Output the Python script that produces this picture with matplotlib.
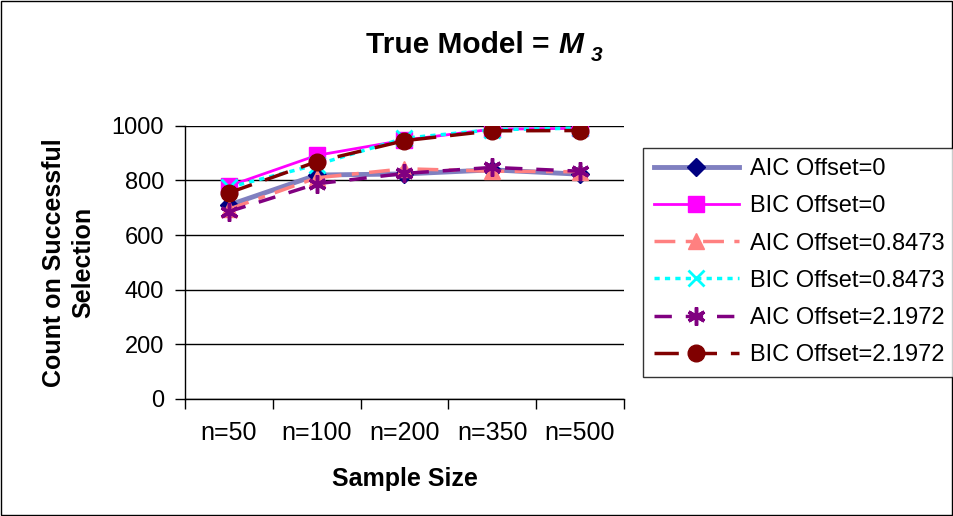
import numpy as np
import matplotlib.pyplot as plt
from matplotlib.patches import Rectangle

plt.rcParams['font.family'] = ['Liberation Sans', 'DejaVu Sans']

# Daten
sizes = ['n=50', 'n=100', 'n=200', 'n=350', 'n=500']
aic_0 = [710, 820, 824, 839, 823]
bic_0 = [780, 892, 948, 988, 991]
aic_08473 = [695, 810, 843, 834, 832]
bic_08473 = [775, 858, 955, 986, 992]
aic_21972 = [686, 788, 826, 848, 834]
bic_21972 = [755, 869, 946, 982, 983]

fig = plt.figure(figsize=(9.54, 5.16), dpi=100)
ax = fig.add_axes([0.194, 0.227, 0.460, 0.529])
x = np.arange(len(sizes))

ax.plot(x, aic_0, color='#8080c0', lw=3.5, marker='D', ms=9,
        mfc='#000080', mec='#000080', label='AIC Offset=0', zorder=3)
ax.plot(x, bic_0, color='#ff00ff', lw=2, marker='s', ms=11,
        mfc='#ff00ff', mec='#ff00ff', label='BIC Offset=0', zorder=3)
ax.plot(x, aic_08473, color='#ff8080', lw=2.5, ls=(0, (6, 3, 2, 3)), marker='^', ms=11,
        mfc='#ff8080', mec='#ff8080', label='AIC Offset=0.8473', zorder=3)
ax.plot(x, bic_08473, color='#00ffff', lw=2.5, ls=(0, (1.5, 1.5)), marker='x', ms=11, mew=2,
        mfc='#00ffff', mec='#00ffff', label='BIC Offset=0.8473', zorder=3)
ax.plot(x, aic_21972, color='#800080', lw=2.5, ls=(0, (5, 4)), marker=(6, 2, 0), ms=13, mew=2.5,
        mfc='#800080', mec='#800080', label='AIC Offset=2.1972', zorder=3)
ax.plot(x, bic_21972, color='#800000', lw=2.5, ls=(0, (7, 4)), marker='o', ms=12,
        mfc='#800000', mec='#800000', label='BIC Offset=2.1972', zorder=3)

# Achsen
ax.set_xlim(-0.5, len(sizes) - 0.5)
ax.set_ylim(0, 1000)
ax.set_yticks(np.arange(0, 1001, 200))
ax.set_xticks(x)
ax.set_xticklabels(sizes)
ax.set_xticks(np.arange(-0.5, len(sizes)), minor=True)
ax.tick_params(axis='x', which='major', length=0, labelsize=18, pad=16)
ax.tick_params(axis='x', which='minor', length=7, width=1, direction='out')
ax.tick_params(axis='y', length=7, width=1, labelsize=17, pad=8)
ax.grid(axis='y', color='black', lw=1)
ax.set_axisbelow(True)
for s in ['top', 'right']:
    ax.spines[s].set_visible(False)
for s in ['left', 'bottom']:
    ax.spines[s].set_color('black')
    ax.spines[s].set_linewidth(1)

ax.set_xlabel('Sample Size', fontsize=18, weight='bold', labelpad=16)
ax.set_ylabel('Count on Successful\nSelection', fontsize=18, weight='bold', labelpad=12,
              linespacing=1.28)

# Titel
fig.text(0.585, 0.912, 'True Model = ', fontsize=21.5, weight='bold', ha='right', va='center')
fig.text(0.585, 0.912, 'M', fontsize=21.5, weight='bold', style='italic', ha='left', va='center')
fig.text(0.619, 0.893, '3', fontsize=15, weight='bold', style='italic', ha='left', va='center')

# Legende
leg = fig.legend(loc='center left', bbox_to_anchor=(0.662, 0.492), bbox_transform=fig.transFigure,
                 fontsize=17, frameon=True, fancybox=False, edgecolor='black',
                 handlelength=3.6, labelspacing=0.64, borderpad=0.45, handletextpad=0.45)
leg.get_frame().set_linewidth(1)

# Rahmen
fig.patches.append(Rectangle((0.001, 0.002), 0.997, 0.996, transform=fig.transFigure,
                             fill=False, edgecolor='black', lw=1))

fig.savefig('out.png', dpi=100)
